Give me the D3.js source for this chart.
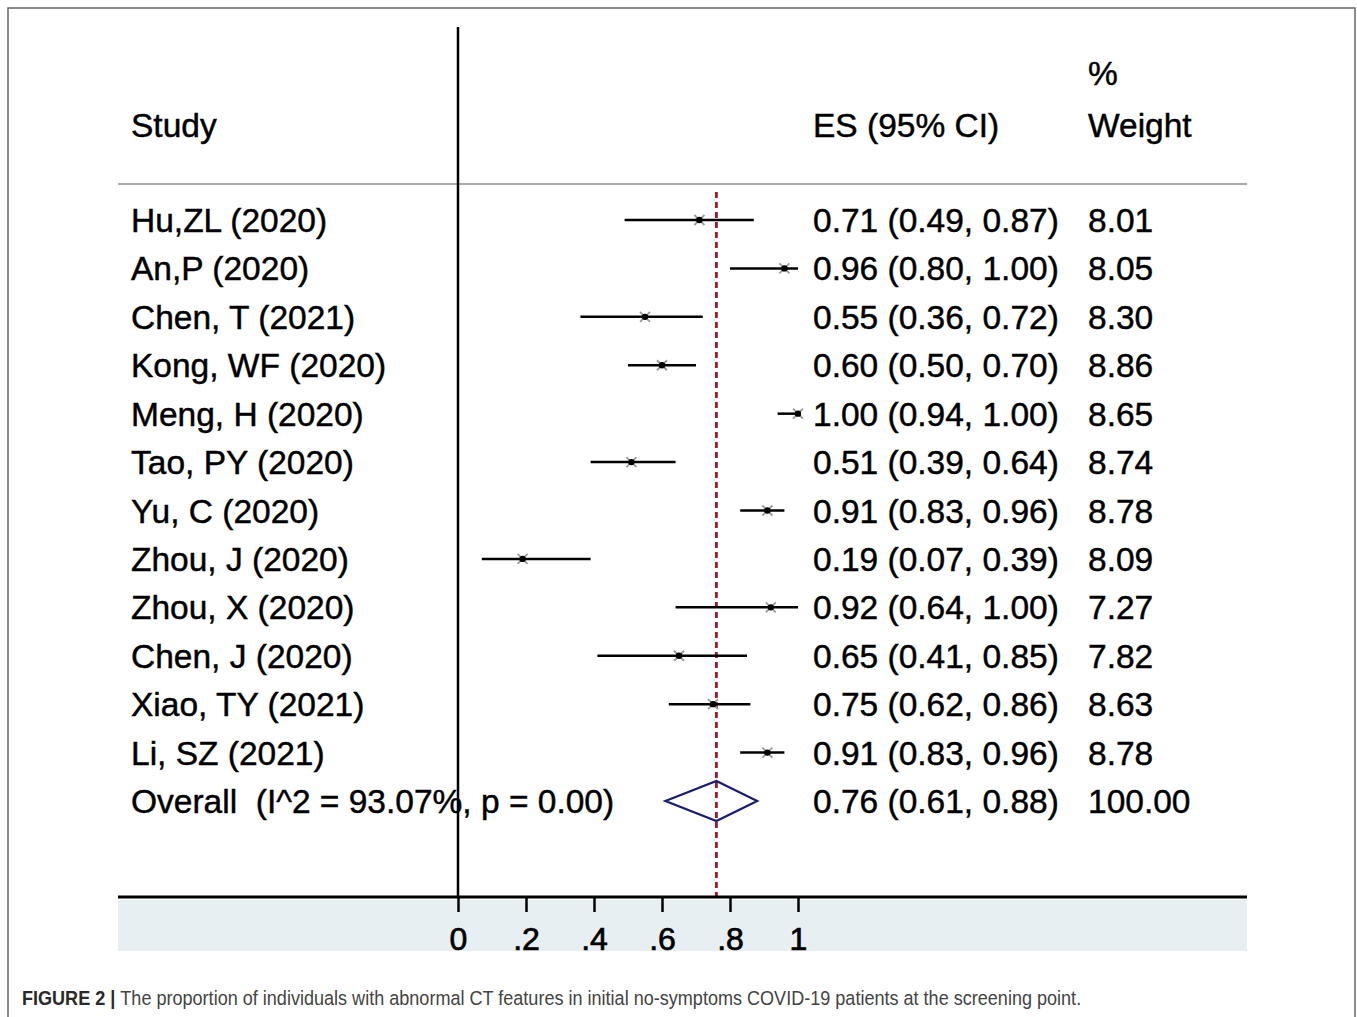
<!DOCTYPE html>
<html>
<head>
<meta charset="utf-8">
<script src="https://cdn.jsdelivr.net/npm/d3@7"></script>
<style>
  html, body { margin: 0; padding: 0; background: #fff; }
  svg text { font-family: "Liberation Sans", Arial, sans-serif; }
</style>
</head>
<body>
<svg id="chart" width="1357" height="1017"></svg>
<script>
// ---- data ----
const studies = ["Hu,ZL (2020)", "An,P (2020)", "Chen, T (2021)", "Kong, WF (2020)", "Meng, H (2020)", "Tao, PY (2020)", "Yu, C (2020)", "Zhou, J (2020)", "Zhou, X (2020)", "Chen, J (2020)", "Xiao, TY (2021)", "Li, SZ (2021)"];
const es      = [0.71, 0.96, 0.55, 0.60, 1.00, 0.51, 0.91, 0.19, 0.92, 0.65, 0.75, 0.91];
const ciLow   = [0.49, 0.80, 0.36, 0.50, 0.94, 0.39, 0.83, 0.07, 0.64, 0.41, 0.62, 0.83];
const ciHigh  = [0.87, 1.00, 0.72, 0.70, 1.00, 0.64, 0.96, 0.39, 1.00, 0.85, 0.86, 0.96];
const weights = ["8.01", "8.05", "8.30", "8.86", "8.65", "8.74", "8.78", "8.09", "7.27", "7.82", "8.63", "8.78"];
const overallLabel = "Overall  (I^2 = 93.07%, p = 0.00)";
const overallES = 0.76, overallLow = 0.61, overallHigh = 0.88, overallWeight = "100.00";
const tickValues = [0, 0.2, 0.4, 0.6, 0.8, 1];
const tickLabels = ["0", ".2", ".4", ".6", ".8", "1"];
const headers = { study: "Study", es: "ES (95% CI)", pct: "%", weight: "Weight" };
const caption = { bold: "FIGURE 2 | ", text: "The proportion of individuals with abnormal CT features in initial no-symptoms COVID-19 patients at the screening point." };

// ---- layout ----
const svg = d3.select("#chart");
const x = d3.scaleLinear().domain([0, 1]).range([458, 798]);
const y = d3.scaleLinear().domain([0, studies.length]).range([220, 801]);
const axisY = 897;
const fs = 33.5;
const esX = 813, wX = 1088, labX = 131;
const fmt = d3.format(".2f");

// outer frame
svg.append("rect").attr("x", 8).attr("y", 8).attr("width", 1347).attr("height", 1030)
  .attr("fill", "none").attr("stroke", "#666").attr("stroke-width", 1.5);

// bottom band
svg.append("rect").attr("x", 118).attr("y", 900).attr("width", 1129).attr("height", 51)
  .attr("fill", "#e8eff2");

// header texts
const g = svg.append("g").attr("font-size", fs).attr("fill", "#000")
  .attr("stroke", "#000").attr("stroke-width", 0.45);
g.append("text").attr("x", labX).attr("y", 137).text(headers.study);
g.append("text").attr("x", esX).attr("y", 137).text(headers.es);
g.append("text").attr("x", wX).attr("y", 85).text(headers.pct);
g.append("text").attr("x", wX).attr("y", 137).text(headers.weight);

// header separator
svg.append("line").attr("x1", 118).attr("x2", 1247).attr("y1", 184).attr("y2", 184)
  .attr("stroke", "#aaa").attr("stroke-width", 2);

// rows
const rows = studies.map((s, i) => ({ s, es: es[i], lo: ciLow[i], hi: ciHigh[i], w: weights[i], i }));

g.selectAll("text.lab").data(rows).join("text").attr("class", "lab")
  .attr("x", labX).attr("y", d => y(d.i) + 12).text(d => d.s);
g.selectAll("text.es").data(rows).join("text").attr("class", "es")
  .attr("x", esX).attr("y", d => y(d.i) + 12)
  .text(d => `${fmt(d.es)} (${fmt(d.lo)}, ${fmt(d.hi)})`);
g.selectAll("text.w").data(rows).join("text").attr("class", "w")
  .attr("x", wX).attr("y", d => y(d.i) + 12).text(d => d.w);

// overall row text
const oy = y(studies.length);
g.append("text").attr("x", labX).attr("y", oy + 12).attr("xml:space", "preserve")
  .style("white-space", "pre").text(overallLabel);
g.append("text").attr("x", esX).attr("y", oy + 12)
  .text(`${fmt(overallES)} (${fmt(overallLow)}, ${fmt(overallHigh)})`);
g.append("text").attr("x", wX).attr("y", oy + 12).text(overallWeight);

// vertical null line
svg.append("line").attr("x1", x(0)).attr("x2", x(0)).attr("y1", 27).attr("y2", axisY)
  .attr("stroke", "#000").attr("stroke-width", 2.5);

// overall dashed line
svg.append("line").attr("x1", x(overallES)).attr("x2", x(overallES)).attr("y1", 192).attr("y2", axisY)
  .attr("stroke", "#a31a22").attr("stroke-width", 2.8).attr("stroke-dasharray", "6,4");

// CI lines
svg.selectAll("line.ci").data(rows).join("line").attr("class", "ci")
  .attr("x1", d => x(d.lo)).attr("x2", d => x(d.hi))
  .attr("y1", d => y(d.i)).attr("y2", d => y(d.i))
  .attr("stroke", "#000").attr("stroke-width", 2.5);

// markers (gray cross + black dot)
const mk = svg.selectAll("g.mk").data(rows).join("g").attr("class", "mk")
  .attr("transform", d => `translate(${x(d.es)},${y(d.i)})`);
mk.append("path").attr("d", "M-5,-5L5,5M-5,5L5,-5").attr("stroke", "#9a9a9a").attr("stroke-width", 1.8);
mk.append("circle").attr("r", 3.2).attr("fill", "#000");

// overall diamond
const dh = 20;
svg.append("path")
  .attr("d", `M${x(overallLow)},${oy}L${x(overallES)},${oy - dh}L${x(overallHigh)},${oy}L${x(overallES)},${oy + dh}Z`)
  .attr("fill", "none").attr("stroke", "#1c1c6e").attr("stroke-width", 2.2);

// x axis
svg.append("line").attr("x1", 118).attr("x2", 1247).attr("y1", axisY).attr("y2", axisY)
  .attr("stroke", "#000").attr("stroke-width", 3);
const axis = d3.axisBottom(x).tickValues(tickValues)
  .tickFormat((d, i) => tickLabels[i]).tickSize(15).tickPadding(15);
const ax = svg.append("g").attr("transform", `translate(0,${axisY})`).call(axis);
ax.select(".domain").remove();
ax.selectAll(".tick line").attr("stroke", "#000").attr("stroke-width", 2.5);
ax.selectAll(".tick text").attr("font-size", 32).attr("fill", "#000")
  .attr("stroke", "#000").attr("stroke-width", 0.7)
  .attr("font-family", "Liberation Sans, Arial, sans-serif");

// caption
const cap = svg.append("text").attr("x", 22).attr("y", 1005).attr("font-size", 19.5).attr("fill", "#333");
cap.append("tspan").attr("font-weight", "bold").attr("fill", "#2a2a2a").text(caption.bold);
cap.append("tspan").attr("fill", "#444").text(caption.text);
const natural = cap.node().getComputedTextLength();
const target = 1060;
cap.attr("transform", `translate(22,0) scale(${target / natural},1) translate(-22,0)`);
</script>
</body>
</html>
